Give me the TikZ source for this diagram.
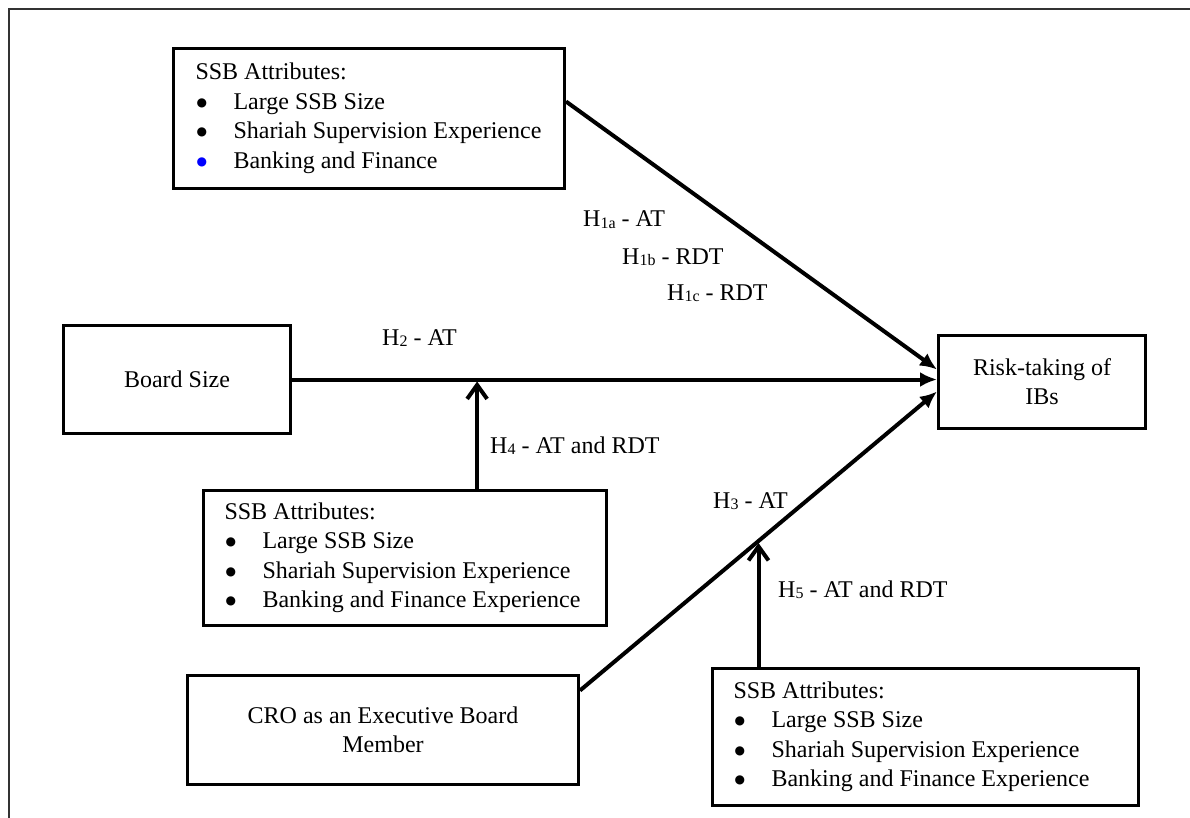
\documentclass[tikz,border=0pt]{standalone}
\usepackage{fontspec}
\setmainfont{Liberation Serif}
\newfontfamily\dejavu{DejaVu Sans}
\usetikzlibrary{arrows.meta,calc}
\newcommand\hsub[1]{\raisebox{-1.5pt}{\fontsize{16}{16}\selectfont #1}}
\newcommand\bitem[2][black]{\mbox{\makebox[38pt][l]{\hspace{1pt}\raisebox{3pt}{\dejavu\fontsize{12}{12}\selectfont\textcolor{#1}{●}}}#2}}
\begin{document}
\begin{tikzpicture}[x=1pt,y=-1pt,
  box/.style={draw, line width=3pt, anchor=north west, inner sep=0pt, align=center,
    font=\fontsize{24}{29}\selectfont},
  listbox/.style={draw, line width=3pt, anchor=north west, inner ysep=0pt, align=flush left,
    font=\fontsize{24}{29.5}\selectfont},
  lbl/.style={anchor=base west, inner sep=0pt, font=\fontsize{24}{29}\selectfont},
  mainarrow/.style={line width=4pt, -{Latex[length=17pt,width=15pt]}},
  modarrow/.style={line width=4pt, -{Straight Barb[length=14pt,width=20pt]}},
  frameline/.style={line width=1.5pt, draw=black!80}]
\useasboundingbox (0,0) rectangle (1190,818);
% frame
\coordinate (fbl) at (9,818);
\coordinate (ftl) at (9,9);
\coordinate (ftr) at (1190,9);
\draw[frameline] (fbl) -- (ftl) -- (ftr);

% boxes
\node[listbox, inner xsep=22pt, text width=347pt, minimum height=140pt] (ssbA) at (172,47)
  {SSB Attributes:\\ \bitem{Large SSB Size}\\ \bitem{Shariah Supervision Experience}\\ \bitem[blue]{Banking and Finance}};
\node[box, minimum width=227pt, minimum height=108pt] (board) at (62,324) {Board Size};
\node[box, minimum width=207pt, minimum height=93pt] (risk) at (937,334) {Risk-taking of\\IBs};
\node[listbox, inner xsep=21pt, text width=361pt, minimum height=135pt] (ssbB) at (202,489)
  {SSB Attributes:\\ \bitem{Large SSB Size}\\ \bitem{Shariah Supervision Experience}\\ \bitem{Banking and Finance Experience}};
\node[box, minimum width=391pt, minimum height=109pt] (cro) at (186,674) {CRO as an Executive Board\\Member};
\node[listbox, inner xsep=21pt, text width=384pt, minimum height=137pt] (ssbC) at (711,667)
  {SSB Attributes:\\ \bitem{Large SSB Size}\\ \bitem{Shariah Supervision Experience}\\ \bitem{Banking and Finance Experience}};

% main arrows
\draw[mainarrow] ([yshift=17pt]ssbA.east) -- ([yshift=12.5pt]risk.west);
\draw[mainarrow] (board.east) -- (board.east -| risk.west) coordinate[pos=0.287] (j1);
\coordinate (c1) at ([yshift=39.5pt]cro.east);
\coordinate (c2) at ([yshift=-9.5pt]risk.west);
\draw[mainarrow] (c1) -- (c2);
\coordinate (j2) at ($(c1)!0.5!(c2)$);

% moderating arrows
\draw[modarrow] (j1 |- ssbB.north) -- ([yshift=-2pt]j1);
\draw[modarrow] (j2 |- ssbC.north) -- ([yshift=-2pt]j2);

% labels
\node[lbl] (l1a) at (583,227) {H\hsub{1a} - AT};
\node[lbl] (l1b) at (622,264) {H\hsub{1b} - RDT};
\node[lbl] (l1c) at (667,300) {H\hsub{1c} - RDT};
\node[lbl] (l2) at (382,345) {H\hsub{2} - AT};
\node[lbl] (l4) at (490,453) {H\hsub{4} - AT and RDT};
\node[lbl] (l3) at (713,508) {H\hsub{3} - AT};
\node[lbl] (l5) at (778,597) {H\hsub{5} - AT and RDT};
\end{tikzpicture}
\end{document}
